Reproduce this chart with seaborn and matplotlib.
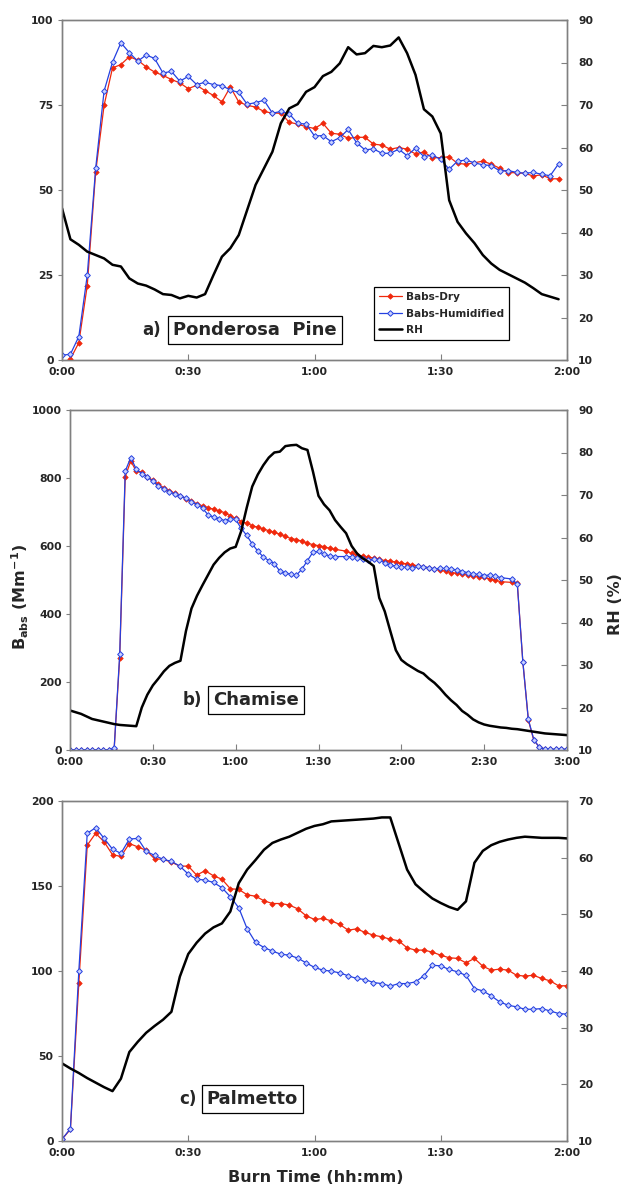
import numpy as np
import matplotlib
matplotlib.use("Agg")
import matplotlib.pyplot as plt
import seaborn as sns

sns.set_style("white")
plt.rcParams["font.family"] = ["DejaVu Sans"]
plt.rcParams["font.weight"] = "bold"
plt.rcParams["mathtext.fontset"] = "dejavusans"

NAN = np.nan

# ---------------- a) Ponderosa Pine (2-min samples, 0:00-1:58) ----------------
pine_time = np.arange(0, 120, 2)
pine_dry = [-2, 0.3, 5.1, 21.9, 55.3, 74.9, 85.9, 86.9, 89.2, 88.2,
            86.2, 84.7, 83.7, 82.5, 81.5, 79.8, 80.8, 79.2, 77.8, 75.9,
            80.3, 75.9, 74.9, 74.4, 73.1, 72.6, 72.6, 69.9, 69.4, 68.6,
            68.1, 69.6, 66.7, 66.4, 65.2, 65.5, 65.5, 63.5, 63.2, 62.0,
            62.5, 62.0, 60.6, 61.2, 59.5, 59.5, 59.8, 57.8, 57.6, 58.0,
            58.5, 57.6, 56.4, 55.1, 55.1, 54.9, 54.1, 54.5, 53.3, 53.3]
pine_hum = [1.4, 1.7, 6.9, 24.9, 56.4, 79.1, 87.6, 93.3, 90.4, 87.9,
            89.7, 88.7, 84.4, 84.9, 82.0, 83.4, 81.0, 81.7, 81.0, 80.7,
            79.4, 78.7, 75.2, 75.7, 76.4, 72.6, 73.1, 72.4, 69.6, 69.4,
            65.9, 66.0, 64.2, 65.4, 67.8, 63.9, 61.8, 62.1, 60.8, 60.8,
            62.0, 60.1, 62.3, 59.8, 60.3, 59.0, 56.1, 58.5, 58.8, 58.0,
            57.4, 57.2, 55.6, 55.7, 55.2, 54.9, 55.2, 54.6, 54.2, 57.7]
pine_rh = [45.7, 38.4, 37.1, 35.5, 34.7, 33.9, 32.4, 32.0, 29.2, 28.0,
           27.5, 26.6, 25.5, 25.3, 24.5, 25.1, 24.7, 25.5, 30.0, 34.3,
           36.3, 39.4, 45.3, 51.2, 55.1, 59.0, 65.7, 69.2, 70.2, 73.1,
           74.2, 76.8, 77.8, 79.8, 83.6, 81.9, 82.2, 83.9, 83.6, 84.0,
           85.9, 82.2, 77.1, 69.0, 67.3, 63.3, 47.6, 42.5, 39.8, 37.5,
           34.7, 32.7, 31.2, 30.2, 29.2, 28.2, 26.9, 25.5, 24.9, 24.3]

# ---------------- b) Chamise (2-min samples, 0:00-3:00) ----------------
cham_time = np.arange(0, 182, 2)
cham_dry = [0, 0, 0, 0, 0, 0, 0, 0, 4, 271,
            804, 850, 820, 818, 804, 793, 782, 771, 763, 755,
            748, 739, 732, 724, 718, 713, 708, 703, 698, 689,
            681, 672, 667, 660, 655, 650, 645, 640, 635, 628,
            622, 619, 614, 608, 604, 601, 598, 593, 590, NAN,
            585, 578, 574, 570, 568, 564, 561, 557, 555, 553,
            549, 548, 544, 542, 539, 536, 532, 529, 526, 522,
            520, 518, 516, 513, 510, 508, 503, 499, 495, NAN,
            493, 490, 260, 88, 28, 9, 3, 2, 2, 2, 2]
cham_hum = [0, 0, 0, 0, 0, 0, 0, 0, 5, 281,
            820, 860, 826, 813, 802, 791, 777, 767, 759, 753,
            747, 741, 730, 722, 711, 692, 685, 680, 675, 680,
            678, 652, 631, 606, 585, 568, 557, 548, 526, 521,
            517, 514, 532, 557, 582, 584, 576, 571, 569, NAN,
            569, 568, 564, 561, 559, 561, 560, 549, 544, 541,
            539, 537, 535, 540, 539, 536, 533, 534, 534, 532,
            530, 525, 522, 517, 517, 513, 515, 512, 507, NAN,
            503, 488, 260, 90, 30, 8, 3, 2, 2, 2, 2]
cham_rh = [19.3, 18.9, 18.5, 17.9, 17.3, 17.0, 16.7, 16.4, 16.1, 15.9,
           15.8, 15.7, 15.6, 20.0, 23.0, 25.2, 26.8, 28.5, 29.8, 30.5,
           31.0, 38.0, 43.3, 46.3, 48.8, 51.2, 53.6, 55.2, 56.5, 57.4,
           57.8, 61.5, 67.0, 72.0, 74.8, 77.0, 78.8, 80.0, 80.2, 81.5,
           81.7, 81.8, 81.0, 80.6, 75.5, 69.8, 67.8, 66.4, 64.1, 62.5,
           61.0, 58.0, 56.2, 55.1, 54.3, 53.3, 45.8, 42.6, 38.0, 33.5,
           31.2, 30.2, 29.4, 28.6, 28.0, 26.8, 25.8, 24.5, 23.0, 21.7,
           20.6, 19.2, 18.3, 17.2, 16.5, 16.0, 15.7, 15.5, 15.3, 15.2,
           15.0, 14.9, 14.7, 14.5, 14.3, 14.1, 13.9, 13.8, 13.7, 13.6, 13.5]

# ---------------- c) Palmetto (2-min samples, 0:00-2:00) ----------------
palm_time = np.arange(0, 122, 2)
palm_dry = [1, 6.9, 93, 174, 181, 176, 168.4, 167.4, 175, 173,
            171, 166, 165.7, 164, 161.7, 161.7, 156.4, 159, 156, 154,
            148.4, 148, 144.8, 144, 141.3, 139.7, 139.7, 138.8, 136.6, 132.5,
            130.3, 130.9, 129.5, 127.4, 124, 124.8, 122.7, 121.1, 120.1, 118.7,
            117.8, 113.6, 112.3, 112.3, 111.1, 109.3, 107.8, 107.4, 104.8, 107.4,
            102.8, 100.5, 101.1, 100.5, 97.5, 97, 97.5, 95.6, 94.2, 91.3, 91.3]
palm_hum = [1, 7.3, 100, 181, 184.3, 178, 171.7, 169.2, 177.6, 178,
            170.4, 168, 165.7, 164.5, 161.7, 157, 154, 153.5, 152.1, 149,
            143.7, 137.2, 124.8, 116.8, 113.8, 111.7, 109.9, 109.3, 107.6, 104.8,
            102.1, 100.5, 99.9, 98.9, 97.2, 95.6, 95, 93.2, 92.6, 91.1,
            92.6, 92.6, 93.6, 97.2, 103.4, 103, 100.9, 99.5, 97.4, 89.7,
            88.3, 85.4, 81.8, 79.9, 78.9, 77.5, 77.5, 77.9, 76.5, 75, 74.6]
palm_rh = [23.7, 22.8, 22.0, 21.1, 20.3, 19.5, 18.8, 21.0, 25.7, 27.5,
           29.1, 30.3, 31.4, 32.8, 39.0, 43.0, 45.0, 46.6, 47.7, 48.4,
           50.5, 55.5, 57.9, 59.6, 61.4, 62.6, 63.2, 63.7, 64.4, 65.1,
           65.6, 65.9, 66.4, 66.5, 66.6, 66.7, 66.8, 66.9, 67.1, 67.1,
           62.5, 57.9, 55.3, 54.0, 52.8, 52.0, 51.3, 50.8, 52.3, 59.1,
           61.2, 62.2, 62.8, 63.2, 63.5, 63.7, 63.6, 63.5, 63.5, 63.5, 63.4]

RED = "#F0280C"
BLUE = "#2440E0"
SPINE = "#808080"
TICK_FS = 7.8


def hhmm(minutes):
    return f"{minutes // 60}:{minutes % 60:02d}"


fig = plt.figure(figsize=(6.23, 11.91), dpi=100)
W, H = 623.0, 1191.0


def add_panel(left, right, top, bottom):
    return fig.add_axes([left / W, 1 - bottom / H, (right - left) / W, (bottom - top) / H])


def draw_panel(ax, t, dry, hum, rh, xmax, ylim, yticks, rhlim, rhticks):
    sns.lineplot(x=t, y=dry, ax=ax, color=RED, linewidth=0.9, marker="D",
                 markersize=2.8, markerfacecolor=RED, markeredgecolor=RED,
                 markeredgewidth=0.5, label="Babs-Dry", legend=False, zorder=3)
    sns.lineplot(x=t, y=hum, ax=ax, color=BLUE, linewidth=0.9, marker="D",
                 markersize=2.9, markerfacecolor="#C8D0FF", markeredgecolor=BLUE,
                 markeredgewidth=0.7, label="Babs-Humidified", legend=False, zorder=4)
    ax2 = ax.twinx()
    sns.lineplot(x=t, y=rh, ax=ax2, color="black", linewidth=1.8,
                 label="RH", legend=False)

    ax.set_xlim(0, xmax)
    ax.set_ylim(*ylim)
    ax2.set_ylim(*rhlim)
    xt = list(range(0, xmax + 1, 30))
    ax.set_xticks(xt)
    ax.set_xticklabels([hhmm(m) for m in xt])
    ax.set_yticks(yticks)
    ax2.set_yticks(rhticks)
    ax.set_xlabel("")
    ax.set_ylabel("")
    ax2.set_ylabel("")

    ax.tick_params(axis="x", bottom=True, direction="in", length=4, width=0.8,
                   color=SPINE, pad=5, labelsize=TICK_FS)
    ax.tick_params(axis="y", left=True, direction="out", length=3, width=0.8,
                   color=SPINE, pad=3, labelsize=TICK_FS)
    ax2.tick_params(axis="y", right=True, direction="in", length=4, width=0.8,
                    color=SPINE, pad=8, labelsize=TICK_FS)
    for a in (ax, ax2):
        for s in a.spines.values():
            s.set_color(SPINE)
            s.set_linewidth(1.0)
    return ax2


def panel_tag(ax, letter, name, lx, bx, by):
    ax.text(lx, by, letter, transform=ax.transAxes, fontsize=12,
            fontweight="bold", ha="center", va="center", zorder=10)
    ax.text(bx, by, name, transform=ax.transAxes, fontsize=13,
            fontweight="bold", ha="center", va="center", zorder=10,
            bbox=dict(boxstyle="square,pad=0.28", fc="white", ec="black", lw=0.9))


# a) Ponderosa Pine
ax_a = add_panel(62, 567, 20, 360)
ax_a2 = draw_panel(ax_a, pine_time, pine_dry, pine_hum, pine_rh, 120,
                   (0, 100), [0, 25, 50, 75, 100], (10, 90), range(10, 91, 10))
panel_tag(ax_a2, "a)", "Ponderosa  Pine", 0.178, 0.382, 0.088)

handles = ax_a.get_lines()[:2] + ax_a2.get_lines()[:1]
leg = ax_a2.legend(handles, ["Babs-Dry", "Babs-Humidified", "RH"],
                   loc="upper left", bbox_to_anchor=(0.618, 0.215),
                   borderaxespad=0, fontsize=7.6, frameon=True, fancybox=False,
                   edgecolor="black", framealpha=1, handlelength=2.1,
                   handletextpad=0.4, labelspacing=0.6, borderpad=0.5,
                   numpoints=1)
leg.get_frame().set_linewidth(0.9)
leg.set_zorder(20)

# b) Chamise
ax_b = add_panel(70, 567, 410, 750)
ax_b2 = draw_panel(ax_b, cham_time, cham_dry, cham_hum, cham_rh, 180,
                   (0, 1000), range(0, 1001, 200), (10, 90), range(10, 91, 10))
panel_tag(ax_b2, "b)", "Chamise", 0.246, 0.375, 0.147)
ax_b.set_ylabel(r"B$_{\mathbf{abs}}$ (Mm$^{\mathbf{-1}}$)", fontsize=11.5,
                fontweight="bold")
ax_b.yaxis.set_label_coords(-0.078, 0.45)
ax_b2.set_ylabel("RH (%)", fontsize=11.5, fontweight="bold")
ax_b2.yaxis.set_label_coords(1.082, 0.43)

# c) Palmetto
ax_c = add_panel(62, 567, 801, 1141)
ax_c2 = draw_panel(ax_c, palm_time, palm_dry, palm_hum, palm_rh, 120,
                   (0, 200), range(0, 201, 50), (10, 70), range(10, 71, 10))
panel_tag(ax_c2, "c)", "Palmetto", 0.25, 0.377, 0.124)
ax_c.set_xlabel("Burn Time (hh:mm)", fontsize=11.5, fontweight="bold")
ax_c.xaxis.set_label_coords(0.502, -0.085)

fig.savefig("out.png", dpi=100, facecolor="white")
